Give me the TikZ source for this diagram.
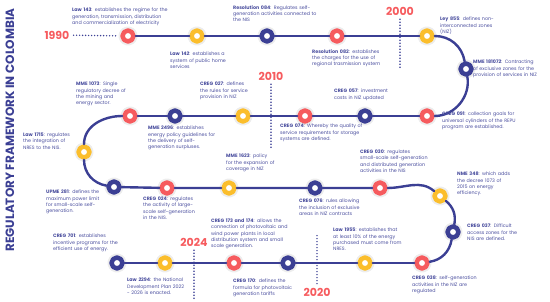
\documentclass[tikz,border=0pt]{standalone}
\usepackage{fontspec}
\setmainfont{Poppins}
\usepackage{tikz}
\usetikzlibrary{positioning,calc,arrows.meta}
\definecolor{tlnavy}{HTML}{3B3F94}
\definecolor{tlred}{HTML}{F65B5E}
\definecolor{tlyellow}{HTML}{FBBE2C}
\definecolor{tltext}{HTML}{4A4E9E}
\newcommand{\jl}[1]{\makebox[\hsize][s]{#1}\\}

\begin{document}
\begin{tikzpicture}[x=1pt, y=1pt, line cap=round, line join=round,
  evt/.style={circle, minimum size=11pt, inner sep=0pt, fill=white, draw=#1, line width=4.5pt, preaction={draw=black!7, line width=8.5pt}},
  desc/.style={anchor=north west, inner sep=0pt, text width=#1, align=left, text=tltext, font=\fontsize{4.8}{6.2}\selectfont},
  yr/.style={text=tlred, font=\bfseries\fontsize{11}{11}\selectfont, inner sep=1pt},
  yrline/.style={tlnavy, line width=1.6pt, dash pattern=on 0pt off 3pt, shorten <=3pt, shorten >=2pt},
  tl/.style={tlnavy, line width=2.4pt}]
  \useasboundingbox (0,0) rectangle (550,302);
  \node[rotate=90, text=tlnavy, font=\bfseries\fontsize{12}{12}\selectfont] (Title) at (10,172) {REGULATORY FRAMEWORK IN COLOMBIA};
  \node[evt=tlred] (L143) at (128,266) {};
  \node[evt=tlyellow] (L142) at (197,266) {};
  \node[evt=tlnavy] (R084) at (267,266) {};
  \node[evt=tlred] (R082) at (337,266) {};
  \node[evt=tlyellow] (L855) at (427,266) {};
  \node[evt=tlnavy] (M181072) at (466,233) {};
  \node[evt=tlred] (C091) at (427,186) {};
  \node[evt=tlnavy] (C057) at (365,186) {};
  \node[evt=tlred] (C074) at (305,186) {};
  \node[evt=tlyellow] (C027) at (243,186) {};
  \node[evt=tlnavy] (M2496) at (175,186) {};
  \node[evt=tlred] (M1073) at (130,186) {};
  \node[evt=tlyellow] (L1715) at (84,150) {};
  \node[evt=tlnavy] (U281) at (114,115) {};
  \node[evt=tlred] (C024) at (167,114) {};
  \node[evt=tlyellow] (M1623) at (229,114) {};
  \node[evt=tlnavy] (C076) at (315,114) {};
  \node[evt=tlred] (C030) at (380,114) {};
  \node[evt=tlyellow] (N348) at (440,106) {};
  \node[evt=tlnavy] (C037) at (453,70) {};
  \node[evt=tlred] (C038) at (422,39) {};
  \node[evt=tlyellow] (L1955) at (365,39) {};
  \node[evt=tlnavy] (C170) at (288,39) {};
  \node[evt=tlred] (C173) at (234,39) {};
  \node[evt=tlyellow] (L2294) at (165,39) {};
  \node[evt=tlnavy] (C701) at (117,39) {};
  \draw[tl] (L143) -- (L142) -- (R084) -- (R082) -- (L855);
  \draw[tl] (L855) to[out=0, in=100] (M181072) to[out=-80, in=0] (C091);
  \draw[tl] (C091) -- (C057) -- (C074) -- (C027) -- (M2496) -- (M1073);
  \draw[tl] (M1073) to[out=180, in=90] (L1715) to[out=-90, in=170] (U281);
  \draw[tl] (U281) -- (C024) -- (M1623) -- (C076) -- (C030);
  \draw[tl] (C030) to[out=0, in=140] (N348) to[out=-40, in=80] (C037) to[out=-100, in=9] (C038);
  \draw[tl] (C038) -- (L1955) -- (C170) -- (C173) -- (L2294) -- (C701);
  \node[yr] (Y1990) at (57,267) {1990};
  \node[yr] (Y2000) at (400,291) {2000};
  \node[yr] (Y2010) at (271,226) {2010};
  \node[yr] (Y2024) at (194,60) {2024};
  \node[yr] (Y2020) at (317,10) {2020};
  \coordinate (E2000) at (400,231);
  \coordinate (E2010) at (271,152);
  \coordinate (E2024) at (194,0);
  \coordinate (E2020) at (317,70);
  \draw[yrline] (Y1990) -- (L143);
  \draw[yrline] (Y2000) -- (E2000);
  \draw[yrline] (Y2010) -- (E2010);
  \draw[yrline] (Y2024) -- (E2024);
  \draw[yrline] (Y2020) -- (E2020);
  \node[desc=101pt] (T143) at (72,294) {\jl{\textbf{Law 143}: establishes the regime for the}\jl{generation, transmission, distribution}and commercialization of electricity};
  \node[desc=60pt] (T142) at (170,250) {\jl{\textbf{Law 142}: establishes a}\jl{system of public home}services};
  \node[desc=89pt] (T084) at (233,297) {\jl{\textbf{Resolution 084}: Regulates self-}\jl{generation activities connected to}the NIS};
  \node[desc=81pt] (T082) at (312,253) {\jl{\textbf{Resolution 082}: establishes}\jl{the charges for the use of}regional trasmission system};
  \node[desc=57pt] (T855) at (440,285) {\jl{\textbf{Ley 855}: defines non-}\jl{interconnected zones}(NIZ)};
  \node[desc=75pt] (T181072) at (473,242) {\jl{\textbf{MME 181072}: Contracting}\jl{of exclusive zones for the}provision of services in NIZ};
  \node[desc=66pt] (T057) at (334,213) {\jl{\textbf{CREG 057}: investment}costs in NIZ updated};
  \node[desc=88pt] (T091) at (442,190) {\jl{\textbf{CREG 091}: collection goals for}\jl{universal cylinders of the REPU}program are established.};
  \node[desc=90pt] (T074) at (280,178) {\jl{\textbf{CREG 074}: Whereby the quality of}\jl{service requirements for storage}systems are defined.};
  \node[desc=53pt] (T027) at (200,220) {\jl{\textbf{CREG 027}: defines}\jl{the rules for service}provision in NIZ};
  \node[desc=70pt] (T2496) at (148,176) {\jl{\textbf{MME 2496}: establishes}\jl{energy policy guidelines for}\jl{the delivery of self-}generation surpluses.};
  \node[desc=54pt] (T1073) at (76,220) {\jl{\textbf{MME 1073}: Single}\jl{regulatory decree of}\jl{the mining and}energy sector.};
  \node[desc=54pt] (T1715) at (23,169) {\jl{\textbf{Law 1715}: regulates}\jl{the integration of}NRES to the NIS.};
  \node[desc=60pt] (T281) at (46,112) {\jl{\textbf{UPME 281}: defines the}\jl{maximum power limit}\jl{for small-scale self-}generation.};
  \node[desc=55pt] (T024) at (143,105) {\jl{\textbf{CREG 024}: regulates}\jl{the activity of large-}\jl{scale self-generation}in the NIS.};
  \node[desc=53pt] (T1623) at (226,148) {\jl{\textbf{MME 1623}: policy}\jl{for the expansion of}coverage in NIZ};
  \node[desc=68pt] (T076) at (299,103) {\jl{\textbf{CREG 076}: rules allowing}\jl{the inclusion of exclusive}areas in NIZ contracts};
  \node[desc=70pt] (T030) at (360,152) {\jl{\textbf{CREG 030}: regulates}\jl{small-scale self-generation}\jl{and distributed generation}activities in the NIS};
  \node[desc=56pt] (T348) at (457,130) {\jl{\textbf{NME 348}: which adds}\jl{the decree 1073 of}\jl{2015 on energy}efficiency.};
  \node[desc=56pt] (T037) at (467,78) {\jl{\textbf{CREG 037}: Difficult}\jl{access zones for the}NIS are defined.};
  \node[desc=69pt] (T038) at (412,26) {\jl{\textbf{CREG 038}: self-generation}\jl{activities in the NIZ are}regulated};
  \node[desc=75pt] (T1955) at (333,74) {\jl{\textbf{Law 1955}: establishes that}\jl{at least 10\% of the energy}\jl{purchased must come from}NRES.};
  \node[desc=66pt] (T170) at (233,23) {\jl{\textbf{CREG 170}: defines the}\jl{formula for photovoltaic}generation tariffs};
  \node[desc=84pt] (T173) at (211,83) {\jl{\textbf{CREG 173 and 174}: allows the}\jl{connection of photovoltaic and}\jl{wind power plants in local}\jl{distribution system and small}scale generation.};
  \node[desc=61pt] (T2294) at (127,24) {\jl{\textbf{Law 2294}: the National}\jl{Development Plan 2022}- 2026 is enacted.};
  \node[desc=77pt] (T701) at (53,68) {\jl{\textbf{CREG 701}: establishes}\jl{incentive programs for the}efficient use of energy.};
\end{tikzpicture}
\end{document}
